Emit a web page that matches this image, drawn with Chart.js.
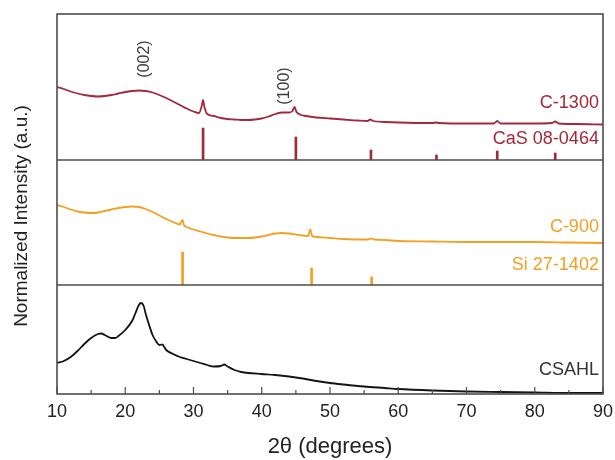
<!DOCTYPE html>
<html>
<head>
<meta charset="utf-8">
<script src="https://cdn.jsdelivr.net/npm/chart.js@4.4.1/dist/chart.umd.min.js"></script>
<style>
  html, body { margin: 0; padding: 0; background: #fff; }
  #wrap { width: 615px; height: 460px; }
</style>
</head>
<body>
<div id="wrap"><canvas id="xrd"></canvas></div>
<script>
// ---- data (intensity in a.u. above each panel floor) ----

// C-1300
const theta1300 = [10, 11, 12, 13, 14, 15, 16, 17, 18, 19, 20, 21, 22, 23, 24, 25, 26, 27, 28, 29, 30, 30.8, 31.2, 31.4, 31.6, 32, 33, 34, 35, 36, 37, 38, 39, 40, 41, 42, 43, 44, 44.5, 44.8, 45.1, 45.6, 46.5, 48, 50, 52, 54, 55.5, 55.9, 56.3, 58, 60, 65, 65.5, 66, 70, 74, 74.5, 75, 78, 80, 82.5, 83, 83.5, 86, 90];
const int1300 = [73, 71, 68.5, 66.5, 65, 64, 63.5, 64, 65, 66.5, 68, 69, 69.5, 69, 67.5, 65, 62, 58.5, 55, 51.5, 48.5, 47, 54, 60, 53, 46, 44, 42, 41, 40.5, 40, 40, 40.5, 41.5, 43.5, 46, 47.5, 47.5, 49, 53, 48, 45.5, 44, 42.5, 41.5, 40.5, 39.5, 39, 40.5, 39, 38, 37.5, 37, 37.5, 37, 36.5, 36.5, 39, 36.5, 36.5, 36.5, 37, 38.5, 36.5, 36, 35.5];

// CaS 08-0464 reference lines
const thetaCaS = [31.4, 45.0, 56.0, 65.6, 74.5, 83.0];
const intCaS = [32, 23, 10, 5, 9, 7];

// C-900
const theta900 = [10, 11, 12, 13, 14, 15, 16, 17, 18, 19, 20, 21, 22, 23, 24, 25, 26, 27, 28, 28.2, 28.4, 28.6, 29, 30, 31, 32, 33, 34, 35, 36, 37, 38, 39, 40, 41, 42, 43, 44, 45, 46, 46.8, 47.1, 47.4, 48, 50, 52, 55.5, 56, 56.5, 58, 60, 65, 70, 75, 80, 85, 90];
const int900 = [80, 78, 75.5, 73.5, 72.5, 72, 72.5, 74, 75.5, 77, 78, 78.5, 78, 76, 73, 69.5, 66, 63, 60.5, 63, 65, 60, 58, 55.5, 53.5, 51.5, 50, 48.5, 47.5, 47, 47, 47, 47.5, 48.5, 50, 51.5, 52, 51.5, 50.5, 49.5, 49, 55.5, 49, 48, 47, 46, 45.5, 46.5, 45.5, 45, 44, 43.5, 43, 43, 43, 42.5, 42];

// Si 27-1402 reference lines
const thetaSi = [28.4, 47.3, 56.1];
const intSi = [33, 17, 8];

// CSAHL
const thetaCSAHL = [10, 11, 12, 13, 14, 15, 16, 16.5, 17, 18, 18.5, 19, 20, 21, 21.5, 22, 22.3, 22.7, 23, 23.5, 24, 24.5, 25, 25.4, 26, 27, 28, 29, 30, 31, 32, 33, 34, 34.5, 35, 36, 37, 38, 40, 42, 44, 46, 48, 50, 52, 55, 58, 60, 65, 70, 75, 80, 85, 90];
const intCSAHL = [31, 33, 37, 43, 50, 56, 60, 60.5, 59, 56, 56, 58, 64, 73, 81, 89, 91, 88, 80, 69, 59, 53, 49, 49.5, 44, 40, 37, 35, 33, 31, 29, 27.5, 28, 29.5, 27.5, 24, 22, 21, 20, 19, 17.5, 15.5, 13, 11, 9.5, 7.5, 6, 5, 3.5, 2.5, 2, 1.5, 1, 1];

// x axis
const xMin = 10;
const xMax = 90;
const xStep = 10;

// panel heights (a.u. range of each stacked axis)
const panelTop = 146;
const panelMid = 125;
const panelBot = 109;

const redC = '#a3283b';
const orangeC = '#f2a024';
const blackC = '#141414';
const frameC = '#4d4d4d';
const fontFam = '"Liberation Sans", Arial, sans-serif';

// text labels: [text, 2theta, value, axis, color, rotated]
const labels = [
  ['C-1300', 89.4, 57, 'yTop', redC, false],
  ['CaS 08-0464', 89.4, 21, 'yTop', redC, false],
  ['(002)', 22.8, 101, 'yTop', '#3a3a3a', true],
  ['(100)', 43.3, 74, 'yTop', '#3a3a3a', true],
  ['C-900', 89.4, 58, 'yMid', orangeC, false],
  ['Si 27-1402', 89.4, 20, 'yMid', orangeC, false],
  ['CSAHL', 89.4, 24, 'yBot', '#333', false]
];

function pts(xs, ys) {
  return xs.map((x, i) => ({ x: x, y: ys[i] }));
}

// frame, panel dividers, inward x ticks
const framePlugin = {
  id: 'frame',
  afterDatasetsDraw(chart) {
    const ctx = chart.ctx;
    const a = chart.chartArea;
    const xs = chart.scales.x;
    ctx.save();
    ctx.strokeStyle = frameC;
    ctx.lineWidth = 1.6;
    ctx.strokeRect(a.left, a.top, a.right - a.left, a.bottom - a.top);
    // dividers between panels
    ['yMid', 'yBot'].forEach(id => {
      const y = chart.scales[id].top;
      ctx.beginPath();
      ctx.moveTo(a.left, y);
      ctx.lineTo(a.right, y);
      ctx.stroke();
    });
    // ticks pointing inward
    ctx.lineWidth = 1.2;
    for (let v = xMin; v <= xMax; v += xStep / 2) {
      const px = xs.getPixelForValue(v);
      const len = (v % xStep === 0) ? 7 : 4;
      ctx.beginPath();
      ctx.moveTo(px, a.bottom);
      ctx.lineTo(px, a.bottom - len);
      ctx.stroke();
    }
    ctx.restore();
  },
  afterDraw(chart) {
    const ctx = chart.ctx;
    const xs = chart.scales.x;
    ctx.save();
    labels.forEach(l => {
      const px = xs.getPixelForValue(l[1]);
      const py = chart.scales[l[3]].getPixelForValue(l[2]);
      ctx.fillStyle = l[4];
      ctx.textBaseline = 'middle';
      if (l[5]) {
        ctx.font = '16px ' + fontFam;
        ctx.translate(px, py);
        ctx.rotate(-Math.PI / 2);
        ctx.textAlign = 'center';
        ctx.fillText(l[0], 0, 0);
        ctx.setTransform(1, 0, 0, 1, 0, 0);
      } else {
        ctx.font = '18px ' + fontFam;
        ctx.textAlign = 'right';
        ctx.fillText(l[0], px, py);
      }
    });
    // y axis title
    ctx.fillStyle = '#222';
    ctx.font = '19px ' + fontFam;
    ctx.translate(22, 216);
    ctx.rotate(-Math.PI / 2);
    ctx.textAlign = 'center';
    ctx.textBaseline = 'middle';
    ctx.fillText('Normalized Intensity (a.u.)', 0, 0);
    ctx.restore();
  }
};

const lineStyle = {
  pointRadius: 0,
  borderWidth: 1.8,
  cubicInterpolationMode: 'monotone',
  fill: false
};

function yAxis(max) {
  return {
    type: 'linear',
    position: 'left',
    stack: 'xrd',
    stackWeight: max,
    min: 0,
    max: max,
    display: true,
    ticks: { display: false },
    grid: { display: false, drawTicks: false },
    border: { display: false },
    afterFit: s => { s.width = 0; }
  };
}

const chart = new Chart(document.getElementById('xrd'), {
  type: 'line',
  data: {
    datasets: [
      Object.assign({ label: 'CSAHL', data: pts(thetaCSAHL, intCSAHL), borderColor: blackC, yAxisID: 'yBot' }, lineStyle),
      Object.assign({ label: 'C-900', data: pts(theta900, int900), borderColor: orangeC, yAxisID: 'yMid' }, lineStyle),
      Object.assign({ label: 'C-1300', data: pts(theta1300, int1300), borderColor: redC, yAxisID: 'yTop' }, lineStyle),
      { type: 'bar', label: 'Si 27-1402', data: pts(thetaSi, intSi), backgroundColor: orangeC, yAxisID: 'yMid', barThickness: 2, grouped: false },
      { type: 'bar', label: 'CaS 08-0464', data: pts(thetaCaS, intCaS), backgroundColor: redC, yAxisID: 'yTop', barThickness: 2, grouped: false }
    ]
  },
  options: {
    responsive: true,
    maintainAspectRatio: false,
    animation: false,
    devicePixelRatio: 1,
    layout: { padding: { left: 57, right: 12, top: 14, bottom: 0 } },
    plugins: {
      legend: { display: false },
      tooltip: { enabled: false }
    },
    scales: {
      x: {
        type: 'linear',
        position: 'bottom',
        offset: false,
        min: xMin,
        max: xMax,
        ticks: { stepSize: xStep, color: '#222', font: { family: fontFam, size: 18 }, padding: 7 },
        grid: { display: false, drawTicks: false, offset: false },
        border: { display: false },
        title: { display: true, text: '2θ (degrees)', color: '#222', font: { family: fontFam, size: 22 }, padding: { top: 0, bottom: 0 } },
        afterFit: s => { s.height = 66; s.paddingLeft = 0; s.paddingRight = 0; }
      },
      yBot: yAxis(panelBot),
      yMid: yAxis(panelMid),
      yTop: yAxis(panelTop)
    }
  },
  plugins: [framePlugin]
});
</script>
</body>
</html>
